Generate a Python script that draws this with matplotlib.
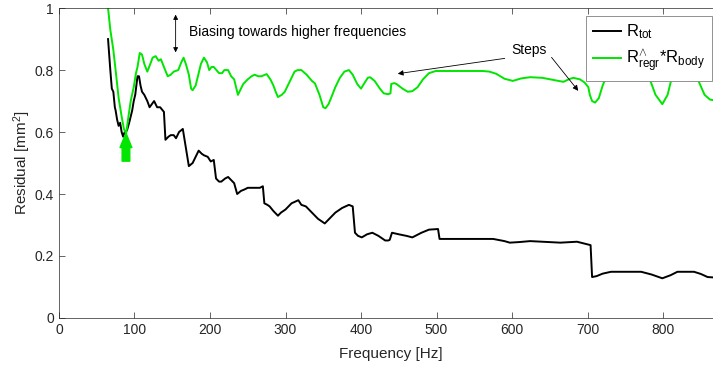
import matplotlib.pyplot as plt
import numpy as np

plt.rcParams['font.family'] = ['Liberation Sans', 'DejaVu Sans']
plt.rcParams['mathtext.fontset'] = 'custom'
plt.rcParams['mathtext.rm'] = 'Liberation Sans'
plt.rcParams['mathtext.it'] = 'Liberation Sans'

# curva R_tot (negra)
f_tot = [65, 68, 70, 72, 74, 75, 77, 79, 81, 83, 85, 87, 90, 93, 95, 97, 99, 101, 104, 106,
         108, 110, 113, 117, 120, 123, 126, 130, 134, 139, 141, 145, 148, 152, 155, 159, 164,
         168, 172, 177, 181, 185, 189, 192, 197, 201, 205, 208, 212, 215, 220, 224, 228, 232,
         236, 241, 246, 250, 255, 259, 263, 266, 270, 272, 276, 279, 284, 290, 294, 300, 308,
         317, 321, 327, 335, 343, 352, 358, 366, 375, 384, 389, 392, 396, 401, 408, 415, 423,
         432, 436, 438, 441, 450, 460, 468, 480, 490, 502, 504, 535, 575, 590, 597, 610, 624,
         640, 664, 686, 704, 706, 712, 720, 731, 750, 771, 785, 799, 810, 819, 841, 850, 859, 872]
r_tot = [0.90, 0.80, 0.74, 0.73, 0.68, 0.67, 0.64, 0.62, 0.63, 0.60, 0.585, 0.60, 0.605, 0.63,
         0.65, 0.67, 0.70, 0.72, 0.78, 0.78, 0.75, 0.73, 0.72, 0.70, 0.68, 0.69, 0.70, 0.68,
         0.68, 0.665, 0.575, 0.585, 0.59, 0.59, 0.58, 0.60, 0.61, 0.55, 0.49, 0.50, 0.52, 0.54,
         0.53, 0.525, 0.52, 0.505, 0.51, 0.45, 0.44, 0.44, 0.45, 0.455, 0.445, 0.435, 0.40,
         0.41, 0.415, 0.42, 0.42, 0.42, 0.42, 0.42, 0.425, 0.37, 0.365, 0.36, 0.345, 0.33,
         0.34, 0.35, 0.37, 0.38, 0.365, 0.36, 0.34, 0.32, 0.305, 0.32, 0.34, 0.355, 0.365,
         0.36, 0.275, 0.265, 0.26, 0.27, 0.275, 0.265, 0.25, 0.25, 0.252, 0.275, 0.27, 0.265,
         0.26, 0.275, 0.285, 0.287, 0.255, 0.255, 0.255, 0.248, 0.243, 0.245, 0.248, 0.246,
         0.243, 0.246, 0.235, 0.132, 0.135, 0.143, 0.149, 0.149, 0.149, 0.14, 0.128, 0.138,
         0.149, 0.149, 0.142, 0.132, 0.13]

# curva R_regr^*R_body (verde)
f_reg = [65, 68, 72, 75, 79, 83, 86, 89, 92, 95, 99, 102, 104, 107, 110, 113, 117, 121, 124,
         128, 132, 135, 139, 144, 148, 152, 158, 162, 165, 168, 172, 175, 177, 181, 184, 188,
         192, 196, 199, 202, 205, 212, 216, 219, 224, 228, 232, 235, 237, 241, 244, 250, 255,
         259, 264, 268, 275, 280, 284, 287, 290, 295, 299, 305, 312, 316, 321, 328, 335, 339,
         345, 350, 353, 357, 362, 366, 372, 378, 384, 389, 395, 400, 405, 409, 412, 418, 425,
         430, 436, 439, 440, 444, 447, 455, 462, 468, 475, 482, 490, 499, 530, 561, 570, 579,
         590, 601, 612, 624, 640, 651, 668, 675, 681, 690, 696, 701, 703, 706, 710, 715, 720,
         725, 732, 745, 760, 775, 781, 790, 799, 806, 812, 820, 830, 840, 846, 855, 862, 872]
r_reg = [1.0, 0.93, 0.865, 0.80, 0.71, 0.65, 0.61, 0.595, 0.65, 0.70, 0.745, 0.79, 0.81, 0.855,
         0.85, 0.82, 0.795, 0.82, 0.84, 0.845, 0.83, 0.835, 0.81, 0.78, 0.785, 0.795, 0.80,
         0.825, 0.84, 0.82, 0.785, 0.74, 0.735, 0.75, 0.78, 0.82, 0.84, 0.825, 0.80, 0.81,
         0.81, 0.79, 0.79, 0.80, 0.80, 0.78, 0.77, 0.74, 0.72, 0.74, 0.755, 0.77, 0.78, 0.785,
         0.78, 0.78, 0.787, 0.77, 0.75, 0.73, 0.713, 0.72, 0.73, 0.76, 0.795, 0.80, 0.80,
         0.785, 0.765, 0.757, 0.72, 0.68, 0.677, 0.69, 0.72, 0.745, 0.775, 0.795, 0.80, 0.785,
         0.755, 0.74, 0.76, 0.775, 0.777, 0.765, 0.74, 0.725, 0.722, 0.725, 0.755, 0.758,
         0.755, 0.74, 0.73, 0.732, 0.745, 0.77, 0.79, 0.797, 0.797, 0.797, 0.795, 0.788,
         0.772, 0.765, 0.773, 0.777, 0.775, 0.77, 0.762, 0.77, 0.775, 0.77, 0.76, 0.745, 0.72,
         0.70, 0.695, 0.71, 0.75, 0.78, 0.82, 0.84, 0.83, 0.80, 0.78, 0.72, 0.69, 0.72, 0.78,
         0.82, 0.83, 0.80, 0.77, 0.72, 0.705, 0.70]

x_ticks = [0, 100, 200, 300, 400, 500, 600, 700, 800]
y_ticks = [0, 0.2, 0.4, 0.6, 0.8, 1]
y_tick_labels = ['0', '0.2', '0.4', '0.6', '0.8', '1']

verde = '#00e600'
gris = '#262626'

fig = plt.figure(figsize=(7.13, 3.68), dpi=100)
ax = fig.add_axes([0.0827, 0.136, 0.932, 0.842])  # se sale un poco por la derecha como el original

ax.plot(f_tot, r_tot, color='black', lw=1.4, label=r'R$_{\mathregular{tot}}$')
ax.plot(f_reg, r_reg, color=verde, lw=1.4, label=r'R$^{\wedge}_{\mathregular{regr}}$*R$_{\mathregular{body}}$')

ax.set_xlim(0, 880)
ax.set_ylim(0, 1)
ax.set_xticks(x_ticks)
ax.set_yticks(y_ticks)
ax.set_yticklabels(y_tick_labels)
ax.tick_params(direction='in', top=True, right=True, length=4, width=0.5, colors=gris, labelsize=10)
for s in ax.spines.values():
    s.set_color(gris)
    s.set_linewidth(0.5)

ax.set_xlabel('Frequency [Hz]', fontsize=11, color=gris, labelpad=7)
ax.set_ylabel(r'Residual [mm$^2$]', fontsize=11, color=gris, labelpad=1)

# anotaciones
ax.annotate('', xy=(154.5, 0.988), xytext=(154.5, 0.848),
            arrowprops=dict(arrowstyle='<|-|>', color='black', lw=0.6, mutation_scale=7))
ax.text(172, 0.923, 'Biasing towards higher frequencies', fontsize=10, va='center')
ax.text(599, 0.865, 'Steps', fontsize=10, va='center')
ax.annotate('', xy=(445, 0.787), xytext=(594, 0.839),
            arrowprops=dict(arrowstyle='-|>', color='black', lw=0.6, mutation_scale=8))
ax.annotate('', xy=(690, 0.726), xytext=(650, 0.848),
            arrowprops=dict(arrowstyle='-|>', color='black', lw=0.6, mutation_scale=8))
# flecha verde gruesa
ax.annotate('', xy=(88.7, 0.597), xytext=(88.7, 0.506),
            arrowprops=dict(facecolor=verde, edgecolor=verde, width=5.5, headwidth=8.5,
                            headlength=10.5, shrink=0))

leg = fig.legend(loc='upper right', bbox_to_anchor=(0.9986, 0.9565), fontsize=12,
                 handlelength=1.7, handletextpad=0.3, borderpad=0.4, labelspacing=0.35,
                 fancybox=False, framealpha=1, edgecolor='#808080', borderaxespad=0)
leg.get_frame().set_linewidth(0.6)

plt.savefig('out.png', dpi=100)
